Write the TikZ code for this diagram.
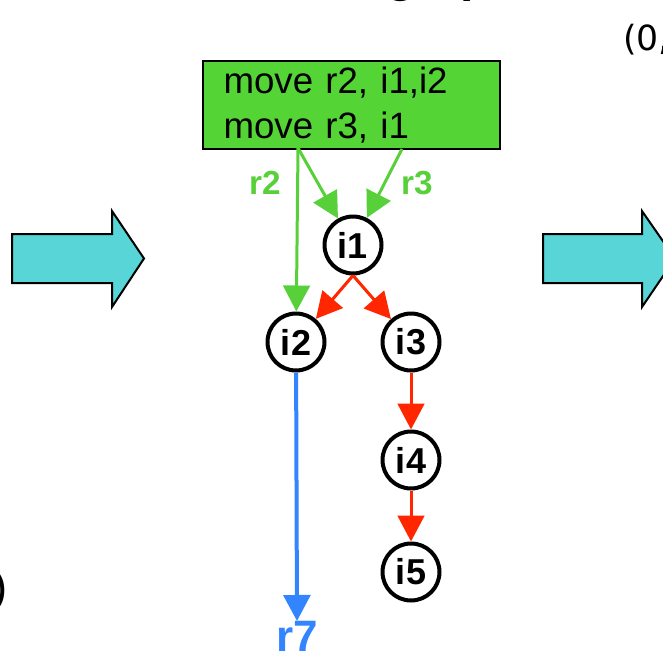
\documentclass[tikz,border=0pt]{standalone}
\usepackage{fontspec}
\setmainfont{Liberation Sans}
\newfontfamily\coordfont{DejaVu Sans}
\usetikzlibrary{arrows.meta}
\definecolor{boxgreen}{RGB}{85,212,53}
\definecolor{lnkgreen}{RGB}{88,208,58}
\definecolor{lnkred}{RGB}{255,38,0}
\definecolor{lnkblue}{RGB}{51,133,255}
\definecolor{bigcyan}{RGB}{88,213,214}
\tikzset{
  inode/.style={circle, draw=black, line width=3pt, fill=white,
    minimum size=42.75pt, inner sep=0pt, font=\fontsize{27}{29}\selectfont\bfseries},
  tip/.style={-{Triangle[width=20pt,length=19.5pt]}},
  greenlink/.style={tip, draw=lnkgreen, line width=2.25pt},
  redlink/.style={tip, draw=lnkred, line width=2.25pt},
  bluelink/.style={tip, draw=lnkblue, line width=3pt},
  reglabel/.style={text=lnkgreen, font=\fontsize{25}{27}\selectfont\bfseries, inner sep=0pt},
  bigarrow/.style={fill=bigcyan, draw=black, line width=1.5pt, line join=miter},
}
\begin{document}
\begin{tikzpicture}[x=0.75pt, y=-0.75pt]
\useasboundingbox (0,0) rectangle (663,671);
\begin{scope}
\clip (0,0) rectangle (663,671);

% title line, mostly above the page edge
\node[anchor=base west, inner sep=0pt, font=\fontsize{36}{40}\selectfont\bfseries] (title) at (386,-8) {graph};

% side labels
\node[anchor=base west, inner sep=0pt, font=\coordfont\fontsize{26}{30}\selectfont] (coord) at (623,50) {(0,};
\node[anchor=base east, inner sep=0pt, font=\fontsize{34}{36}\selectfont] (paren) at (8,602) {)};

% transform arrows
\draw[bigarrow] (12,234) -- (112,234) -- (112,211) -- (144,258.5) -- (112,307) -- (112,283) -- (12,283) -- cycle;
\draw[bigarrow] (543,234) -- (642,234) -- (642,211) -- (675,258.5) -- (642,307) -- (642,283) -- (543,283) -- cycle;

% move instructions
\node[draw=black, line width=1.5pt, fill=boxgreen, anchor=north west,
      minimum width=222.75pt, minimum height=66pt, text width=192pt,
      inner xsep=15pt, align=left,
      font=\fontsize{27.5}{33.75}\selectfont] (box) at (202,60)
  {move r2, i1,i2\\move r3, i1};

% instruction nodes
\node[inode] (i1) at (353,245) {i1};
\node[inode] (i2) at (296,342) {i2};
\node[inode] (i3) at (411,342) {i3};
\node[inode] (i4) at (411,460) {i4};
\node[inode] (i5) at (411,572) {i5};

% register label at the bottom
\node[anchor=north, inner sep=0pt, text=lnkblue, font=\fontsize{33}{36}\selectfont\bfseries] (r7) at (297,621) {r7};

% move sources on the box edge
\coordinate (g1) at (298,148);
\coordinate (g2) at (402,149);

% register moves
\draw[greenlink] (g1) -- (i2);
\draw[greenlink] (g1) -- (i1);
\draw[greenlink] (g2) -- (i1);
\node[reglabel] (r2) at (265,183) {r2};
\node[reglabel] (r3) at (417,183) {r3};

% dependences
\draw[redlink] (i1.south) -- (i2);
\draw[redlink] (i1.south) -- (i3);
\draw[redlink] (i3) -- (i4);
\draw[redlink] (i4) -- (i5);

% value flow
\draw[bluelink] (i2) -- (r7.north);
\end{scope}
\end{tikzpicture}
\end{document}
